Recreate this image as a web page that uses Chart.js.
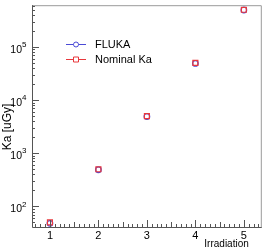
<!DOCTYPE html>
<html>
<head>
<meta charset="utf-8">
<script src="https://cdn.jsdelivr.net/npm/chart.js@4/dist/chart.umd.min.js"></script>
<style>
  html, body { margin: 0; padding: 0; background: #fff; }
  #wrap { width: 267px; height: 249px; }
</style>
</head>
<body>
<div id="wrap"><canvas id="kaChart" width="267" height="249"></canvas></div>
<script>
const irradiation = [1, 2, 3, 4, 5];
const flukaKa = [48, 490, 4900, 49000, 495000];
const nominalKa = [50, 500, 5000, 50000, 500000];
const xTickLabels = ['1', '2', '3', '4', '5'];
const yDecades = [2, 3, 4, 5];
const seriesNames = ['FLUKA', 'Nominal Ka'];

const FONT = '"Liberation Sans", Arial, sans-serif';
const BLUE = '#4a4ad6';
const RED = '#e8383c';

// ROOT-like frame: inside ticks, 10^n labels, legend in the pad
const rootFrame = {
    id: 'rootFrame',
    afterDraw(chart) {
        const ctx = chart.ctx;
        const area = chart.chartArea;
        const xs = chart.scales.x;
        const ys = chart.scales.y;
        ctx.save();

        // light top/right border
        ctx.strokeStyle = '#9a9a9a';
        ctx.lineWidth = 1;
        ctx.beginPath();
        ctx.moveTo(area.left, area.top + 0.5);
        ctx.lineTo(area.right - 0.5, area.top + 0.5);
        ctx.lineTo(area.right - 0.5, area.bottom);
        ctx.stroke();

        // axes
        ctx.strokeStyle = '#555';
        ctx.beginPath();
        ctx.moveTo(area.left + 0.5, area.top);
        ctx.lineTo(area.left + 0.5, area.bottom + 0.5);
        ctx.lineTo(area.right, area.bottom + 0.5);
        ctx.stroke();

        // x ticks
        ctx.beginPath();
        for (let i = 0; i <= 60; i++) {
            const v = Math.round((0.6 + i * 0.1) * 10) / 10;
            if (v < xs.min || v > xs.max) continue;
            const px = Math.round(xs.getPixelForValue(v)) + 0.5;
            let len = 3;
            if (Math.abs(v - Math.round(v)) < 1e-6) len = 7;
            else if (Math.abs(v * 2 - Math.round(v * 2)) < 1e-6) len = 5;
            ctx.moveTo(px, area.bottom);
            ctx.lineTo(px, area.bottom - len);
        }
        // y ticks
        for (let d = 1; d <= 5; d++) {
            for (let m = 1; m <= 9; m++) {
                const v = m * Math.pow(10, d);
                if (v < ys.min || v > ys.max) continue;
                const py = Math.round(ys.getPixelForValue(v)) + 0.5;
                const len = m === 1 ? 7 : 3;
                ctx.moveTo(area.left, py);
                ctx.lineTo(area.left + len, py);
            }
        }
        ctx.stroke();

        // tick labels
        ctx.fillStyle = '#000';
        ctx.font = '11px ' + FONT;
        ctx.textAlign = 'center';
        ctx.textBaseline = 'top';
        irradiation.forEach((v, i) => {
            ctx.fillText(xTickLabels[i], xs.getPixelForValue(v), area.bottom + 3);
        });
        yDecades.forEach(d => {
            const py = ys.getPixelForValue(Math.pow(10, d));
            ctx.font = '10.5px ' + FONT;
            ctx.textAlign = 'right';
            ctx.textBaseline = 'middle';
            ctx.fillText('10', area.left - 10, py + 3);
            ctx.font = '8px ' + FONT;
            ctx.textAlign = 'left';
            ctx.fillText(String(d), area.left - 10, py - 2);
        });

        // axis titles
        ctx.font = '10px ' + FONT;
        ctx.textAlign = 'right';
        ctx.textBaseline = 'alphabetic';
        ctx.fillText('Irradiation', area.right - 13, 247);

        ctx.save();
        ctx.translate(10.5, 127);
        ctx.rotate(-Math.PI / 2);
        ctx.font = '12px ' + FONT;
        ctx.textAlign = 'center';
        ctx.textBaseline = 'alphabetic';
        ctx.fillText('Ka [uGy]', 0, 0);
        ctx.restore();

        // legend
        const entries = [
            { name: seriesNames[0], color: BLUE, style: 'circle', y: 44 },
            { name: seriesNames[1], color: RED, style: 'rect', y: 59 }
        ];
        entries.forEach(e => {
            ctx.strokeStyle = e.color;
            ctx.lineWidth = 1;
            ctx.beginPath();
            ctx.moveTo(66, e.y + 0.5);
            ctx.lineTo(86, e.y + 0.5);
            ctx.stroke();
            ctx.fillStyle = '#fff';
            ctx.beginPath();
            if (e.style === 'circle') ctx.arc(76, e.y + 0.5, 2.5, 0, Math.PI * 2);
            else ctx.rect(73.5, e.y - 2, 5, 5);
            ctx.fill();
            ctx.stroke();
            ctx.fillStyle = '#000';
            ctx.font = '11px ' + FONT;
            ctx.textAlign = 'left';
            ctx.textBaseline = 'middle';
            ctx.fillText(e.name, 95, e.y + 1);
        });
        ctx.restore();
    }
};

const ctx = document.getElementById('kaChart').getContext('2d');
window.myChart = new Chart(ctx, {
    type: 'scatter',
    data: {
        datasets: [
            {
                label: seriesNames[1],
                data: irradiation.map((x, i) => ({ x: x, y: nominalKa[i] })),
                borderColor: RED,
                backgroundColor: 'rgba(255,255,255,0)',
                pointStyle: 'rect',
                pointRadius: 3.5,
                pointBorderWidth: 1.2
            },
            {
                label: seriesNames[0],
                data: irradiation.map((x, i) => ({ x: x, y: flukaKa[i] })),
                borderColor: BLUE,
                backgroundColor: 'rgba(255,255,255,0)',
                pointStyle: 'circle',
                pointRadius: 2.8,
                pointBorderWidth: 1.2
            }
        ]
    },
    plugins: [rootFrame],
    options: {
        responsive: false,
        animation: false,
        layout: { padding: { top: 3, right: 4, left: 0, bottom: 0 } },
        plugins: {
            legend: { display: false },
            tooltip: { enabled: false }
        },
        scales: {
            x: {
                type: 'linear',
                min: 0.63,
                max: 5.37,
                grid: { display: false },
                border: { display: false },
                ticks: { display: false },
                afterFit: (scale) => { scale.height = 22; }
            },
            y: {
                type: 'logarithmic',
                min: 41,
                max: 610000,
                grid: { display: false },
                border: { display: false },
                ticks: { display: false },
                afterFit: (scale) => { scale.width = 32; }
            }
        }
    }
});
</script>
</body>
</html>
